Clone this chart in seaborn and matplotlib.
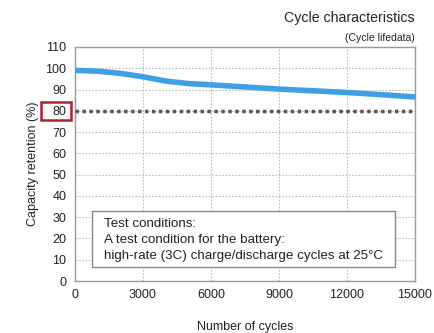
import matplotlib
matplotlib.use("Agg")
import matplotlib.pyplot as plt
import seaborn as sns
import pandas as pd
from matplotlib.patches import Rectangle

cycles = [0, 1000, 2000, 3000, 4000, 5000, 6000, 7500, 9000, 10500, 12000, 13500, 15000]
retention = [99.0, 98.6, 97.6, 96.0, 94.0, 92.8, 92.2, 91.2, 90.2, 89.4, 88.6, 87.6, 86.5]
xticks = [0, 3000, 6000, 9000, 12000, 15000]
yticks = [0, 10, 20, 30, 40, 50, 60, 70, 80, 90, 100, 110]
threshold = 80

sns.set_style("white")
plt.rcParams['font.family'] = ['Liberation Sans', 'DejaVu Sans']

df = pd.DataFrame({"cycles": cycles, "retention": retention})

fig = plt.figure(figsize=(4.35, 3.33), dpi=100)
ax = fig.add_axes([0.172, 0.156, 0.782, 0.703])

sns.lineplot(data=df, x="cycles", y="retention", ax=ax, color="#3fa0e6", linewidth=4, zorder=4)
ax.axhline(threshold, color="#555555", linestyle=(0, (1, 1)), linewidth=2.5, zorder=3)

ax.set_xlim(0, 15000)
ax.set_ylim(0, 110)
ax.set_xticks(xticks)
ax.set_yticks(yticks)
ax.set_xticklabels([str(t) for t in xticks], fontsize=9, color="#222222")
ax.set_yticklabels([str(t) for t in yticks], fontsize=9, color="#222222")
ax.tick_params(length=0, pad=6)
ax.grid(True, color="#bbbbbb", linestyle=(0, (1.5, 1.5)), linewidth=0.8)
for s in ax.spines.values():
    s.set_color("#999999")
    s.set_linewidth(1.0)

ax.set_xlabel("Number of cycles", fontsize=9, color="#222222", labelpad=14)
ax.set_ylabel("Capacity retention (%)", fontsize=9, color="#222222", labelpad=5)

# red box around 80 tick label
rect = Rectangle((41 / 435, 1 - 120 / 333), 30 / 435, 18 / 333, transform=fig.transFigure,
                 fill=False, edgecolor="#b0202e", linewidth=1.8)
fig.patches.append(rect)

fig.text(415 / 435, 1 - 18 / 333, "Cycle characteristics", ha="right", va="center", fontsize=10.2, color="#222222")
fig.text(415 / 435, 1 - 38 / 333, "(Cycle lifedata)", ha="right", va="center", fontsize=7.5, color="#222222")

box = Rectangle((750, 6.6), 13370, 26.3, facecolor="white", edgecolor="#888888", linewidth=1.0, zorder=5)
ax.add_patch(box)
ax.text(1280, 29.6, "Test conditions:\nA test condition for the battery:\nhigh-rate (3C) charge/discharge cycles at 25\u00b0C",
        ha="left", va="top", fontsize=9.6, color="#222222", linespacing=1.42, zorder=6)

fig.savefig("out.png", dpi=100)
